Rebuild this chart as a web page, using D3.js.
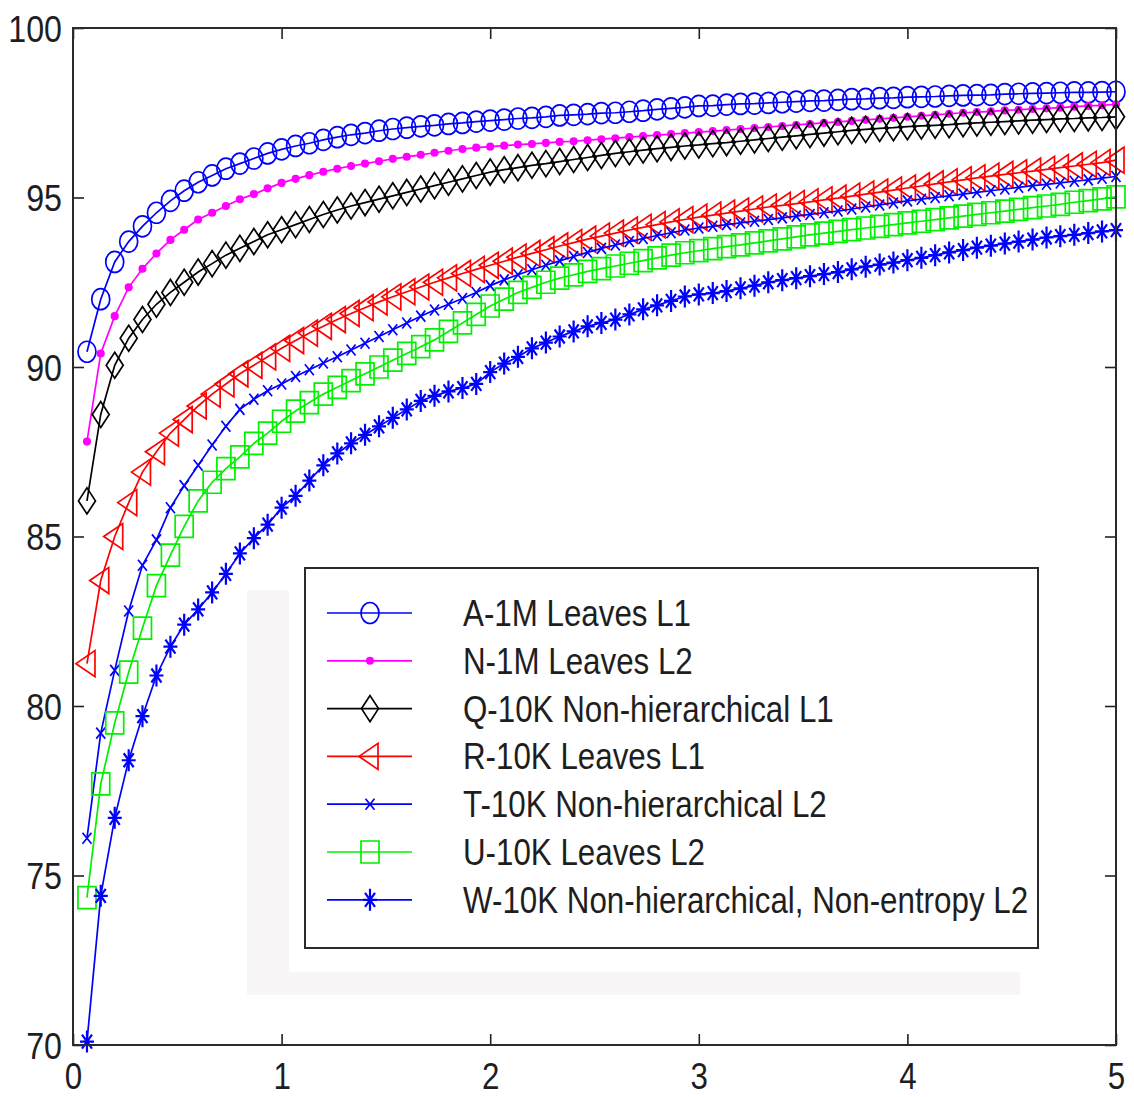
<!DOCTYPE html>
<html>
<head>
<meta charset="utf-8">
<script src="https://cdn.jsdelivr.net/npm/d3@7"></script>
<style>
  body { margin: 0; background: #fff; }
  svg { display: block; }
  text { font-family: "Liberation Sans", Arial, sans-serif; fill: #1e1e1e; }
</style>
</head>
<body>
<div id="wrapper"></div>
<script>
// x positions of the samples
const xValues = [0.067,0.133,0.2,0.267,0.333,0.4,0.467,0.533,0.6,0.667,0.733,0.8,0.867,0.933,1,
  1.067,1.133,1.2,1.267,1.333,1.4,1.467,1.533,1.6,1.667,1.733,1.8,1.867,1.933,2,
  2.067,2.133,2.2,2.267,2.333,2.4,2.467,2.533,2.6,2.667,2.733,2.8,2.867,2.933,3,
  3.067,3.133,3.2,3.267,3.333,3.4,3.467,3.533,3.6,3.667,3.733,3.8,3.867,3.933,4,
  4.067,4.133,4.2,4.267,4.333,4.4,4.467,4.533,4.6,4.667,4.733,4.8,4.867,4.933,5]

const seriesA = [90.45,92.0,93.1,93.7,94.15,94.55,94.9,95.2,95.45,95.65,95.85,96.0,96.15,96.3,96.42,
  96.52,96.6,96.7,96.78,96.85,96.9,96.97,97.02,97.06,97.1,97.13,97.17,97.2,97.24,97.27,
  97.3,97.33,97.35,97.38,97.42,97.44,97.46,97.49,97.5,97.53,97.56,97.6,97.63,97.66,97.7,
  97.71,97.74,97.76,97.77,97.79,97.81,97.83,97.85,97.86,97.88,97.9,97.91,97.93,97.94,97.96,
  97.97,97.98,98.0,98.01,98.02,98.03,98.05,98.06,98.07,98.08,98.09,98.1,98.1,98.11,98.12]

const seriesN = [87.8,90.4,91.5,92.35,92.9,93.35,93.75,94.05,94.35,94.55,94.75,94.95,95.1,95.27,95.43,
  95.55,95.66,95.76,95.85,95.93,96.0,96.07,96.14,96.2,96.26,96.32,96.38,96.43,96.47,96.5,
  96.53,96.56,96.58,96.61,96.64,96.66,96.69,96.72,96.75,96.78,96.81,96.84,96.87,96.9,96.93,
  96.96,96.99,97.02,97.05,97.08,97.11,97.14,97.17,97.2,97.23,97.26,97.29,97.32,97.35,97.38,
  97.41,97.44,97.47,97.5,97.52,97.54,97.57,97.59,97.61,97.63,97.65,97.68,97.7,97.72,97.75]

const seriesQ = [86.05,88.6,90.05,90.85,91.4,91.85,92.2,92.5,92.8,93.05,93.3,93.5,93.7,93.9,94.05,
  94.2,94.35,94.5,94.63,94.75,94.85,94.95,95.05,95.15,95.25,95.35,95.45,95.55,95.65,95.75,
  95.82,95.88,95.95,96.0,96.06,96.12,96.18,96.24,96.3,96.35,96.4,96.44,96.48,96.52,96.55,
  96.59,96.62,96.66,96.7,96.74,96.78,96.82,96.86,96.9,96.94,96.98,97.01,97.04,97.06,97.09,
  97.11,97.13,97.15,97.18,97.2,97.22,97.24,97.26,97.28,97.3,97.32,97.33,97.35,97.36,97.38]

const seriesR = [81.25,83.7,85.0,86.0,86.9,87.5,88.05,88.45,88.85,89.2,89.5,89.8,90.05,90.3,90.55,
  90.78,91.0,91.2,91.4,91.58,91.75,91.92,92.07,92.22,92.36,92.5,92.63,92.76,92.88,93.0,
  93.12,93.24,93.35,93.46,93.57,93.67,93.77,93.86,93.95,94.04,94.12,94.2,94.28,94.35,94.42,
  94.48,94.54,94.6,94.66,94.72,94.77,94.82,94.87,94.93,94.98,95.04,95.1,95.16,95.22,95.28,
  95.34,95.4,95.46,95.52,95.58,95.63,95.68,95.73,95.78,95.83,95.88,95.93,95.98,96.03,96.1]

const seriesT = [76.1,79.2,81.05,82.8,84.15,84.9,85.85,86.5,87.1,87.7,88.25,88.75,89.05,89.3,89.5,
  89.72,89.92,90.12,90.3,90.5,90.7,90.9,91.1,91.3,91.5,91.68,91.85,92.02,92.2,92.4,
  92.57,92.72,92.87,93.0,93.13,93.26,93.38,93.5,93.6,93.7,93.79,93.88,93.96,94.04,94.1,
  94.15,94.2,94.25,94.3,94.35,94.4,94.45,94.5,94.55,94.6,94.66,94.72,94.78,94.84,94.9,
  94.95,95.0,95.05,95.1,95.15,95.2,95.25,95.3,95.35,95.39,95.43,95.48,95.52,95.57,95.62]

const seriesU = [74.35,77.7,79.5,81.0,82.3,83.55,84.45,85.3,86.05,86.6,87.0,87.35,87.75,88.05,88.4,
  88.7,88.95,89.2,89.4,89.6,89.8,90.0,90.2,90.4,90.6,90.8,91.05,91.3,91.55,91.8,
  92.0,92.2,92.35,92.5,92.62,92.72,92.82,92.9,92.98,93.06,93.14,93.22,93.3,93.37,93.43,
  93.49,93.55,93.6,93.66,93.72,93.78,93.84,93.9,93.95,94.0,94.05,94.1,94.15,94.2,94.25,
  94.3,94.35,94.4,94.45,94.5,94.55,94.6,94.65,94.7,94.75,94.8,94.86,94.91,94.96,95.02]

const seriesW = [70.1,74.4,76.7,78.4,79.7,80.9,81.75,82.4,82.85,83.35,83.9,84.5,84.95,85.35,85.85,
  86.2,86.65,87.1,87.45,87.75,88.0,88.25,88.5,88.75,89.0,89.15,89.28,89.38,89.5,89.85,
  90.1,90.3,90.55,90.72,90.9,91.05,91.2,91.3,91.4,91.55,91.7,91.82,91.95,92.08,92.14,
  92.18,92.24,92.32,92.4,92.5,92.56,92.62,92.68,92.74,92.8,92.88,92.96,93.02,93.08,93.15,
  93.22,93.3,93.38,93.45,93.52,93.58,93.64,93.7,93.76,93.82,93.86,93.9,93.95,94.0,94.04]

const seriesNames = [
  "A-1M Leaves L1",
  "N-1M Leaves L2",
  "Q-10K Non-hierarchical L1",
  "R-10K Leaves L1",
  "T-10K Non-hierarchical L2",
  "U-10K Leaves L2",
  "W-10K Non-hierarchical, Non-entropy L2",
]
const seriesColors = ["#0000ff", "#ff00ff", "#000000", "#ff0000", "#0000ff", "#00f000", "#0000ff"]
const seriesMarkers = ["circle", "dot", "diamond", "triangle", "cross", "square", "star"]
const yTicks = [70, 75, 80, 85, 90, 95, 100]
const xTicks = [0, 1, 2, 3, 4, 5]

// marker outlines, centred on the data point
function markerPath(type) {
  if (type === "circle") return "M-9,0A9,10.5 0 1 0 9,0A9,10.5 0 1 0 -9,0Z"
  if (type === "dot") return "M-3.2,0A3.2,3.2 0 1 0 3.2,0A3.2,3.2 0 1 0 -3.2,0Z"
  if (type === "diamond") return "M0,-13L8.5,0L0,13L-8.5,0Z"
  if (type === "triangle") return "M-11,0L8,-13L8,13Z"
  if (type === "cross") return "M-4.5,-5.5L4.5,5.5M-4.5,5.5L4.5,-5.5"
  if (type === "square") return "M-9,-11H9V11H-9Z"
  return "M-7,0H7M0,-11V11M-5,-7L5,7M-5,7L5,-7"
}

function drawChart() {
  const allSeries = [seriesA, seriesN, seriesQ, seriesR, seriesT, seriesU, seriesW]

  let dims = {
    width: 1134,
    height: 1097,
    margin: { top: 28, right: 18, bottom: 52, left: 73 },
  }
  dims.boundedWidth = dims.width - dims.margin.left - dims.margin.right
  dims.boundedHeight = dims.height - dims.margin.top - dims.margin.bottom

  const svg = d3.select("#wrapper")
    .append("svg")
      .attr("width", dims.width)
      .attr("height", dims.height)

  // faint grey shadow shape behind the legend area
  svg.append("path")
    .attr("d", "M247,590H289V972H1020V995H247Z")
    .attr("fill", "#f8f6f6")

  const bounds = svg.append("g")
    .attr("transform", `translate(${dims.margin.left},${dims.margin.top})`)

  const xScale = d3.scaleLinear().domain([0, 5]).range([0, dims.boundedWidth])
  const yScale = d3.scaleLinear().domain([70, 100]).range([dims.boundedHeight, 0])

  // axes with inward ticks on all four sides
  const tickLen = 11
  const axisStyle = g => {
    g.select(".domain").remove()
    g.selectAll(".tick line").attr("stroke", "#222").attr("stroke-width", 1.6)
  }

  const yAxis = bounds.append("g")
    .call(d3.axisLeft(yScale).tickValues(yTicks).tickSize(-tickLen).tickSizeOuter(0).tickPadding(11))
    .call(axisStyle)
  yAxis.selectAll("text")
    .attr("x", -11 / 0.87)
    .attr("dy", null)
    .attr("y", 13)
    .attr("transform", "scale(0.87,1)")
    .style("font-size", "37px")
    .attr("fill", "#1e1e1e")

  const xAxis = bounds.append("g")
    .attr("transform", `translate(0,${dims.boundedHeight})`)
    .call(d3.axisBottom(xScale).tickValues(xTicks).tickSize(-tickLen).tickSizeOuter(0).tickFormat(d3.format("d")))
    .call(axisStyle)
  xAxis.selectAll("text")
    .attr("dy", null)
    .attr("y", 44)
    .attr("x", 0)
    .attr("transform", "scale(0.87,1)")
    .style("font-size", "36px")
    .attr("fill", "#1e1e1e")

  bounds.append("g")
    .call(d3.axisTop(xScale).tickValues(xTicks).tickSize(-tickLen).tickSizeOuter(0).tickFormat(""))
    .call(axisStyle)
  bounds.append("g")
    .attr("transform", `translate(${dims.boundedWidth},0)`)
    .call(d3.axisRight(yScale).tickValues(yTicks).tickSize(-tickLen).tickSizeOuter(0).tickFormat(""))
    .call(axisStyle)

  // the series
  const lineGenerator = d3.line()
    .x((d, i) => xScale(xValues[i]))
    .y(d => yScale(d))

  allSeries.forEach((values, s) => {
    const g = bounds.append("g")
    g.append("path")
      .attr("d", lineGenerator(values))
      .attr("fill", "none")
      .attr("stroke", seriesColors[s])
      .attr("stroke-width", 1.7)
    const isDot = seriesMarkers[s] === "dot"
    g.selectAll("path.marker")
      .data(values)
      .join("path")
        .attr("class", "marker")
        .attr("d", markerPath(seriesMarkers[s]))
        .attr("transform", (d, i) => `translate(${xScale(xValues[i])},${yScale(d)})`)
        .attr("fill", isDot ? seriesColors[s] : "none")
        .attr("stroke", seriesColors[s])
        .attr("stroke-width", seriesMarkers[s] === "star" ? 2.2 : 1.7)
  })

  // plot frame
  bounds.append("rect")
    .attr("width", dims.boundedWidth)
    .attr("height", dims.boundedHeight)
    .attr("fill", "none")
    .attr("stroke", "#2a2a2a")
    .attr("stroke-width", 2)

  // legend
  const legend = svg.append("g")
  legend.append("rect")
    .attr("x", 305)
    .attr("y", 568)
    .attr("width", 733)
    .attr("height", 380)
    .attr("fill", "#fff")
    .attr("stroke", "#2a2a2a")
    .attr("stroke-width", 2)

  seriesNames.forEach((name, s) => {
    const rowY = 613 + s * 47.8
    const row = legend.append("g").attr("transform", `translate(0,${rowY})`)
    row.append("line")
      .attr("x1", 327).attr("x2", 412)
      .attr("stroke", seriesColors[s])
      .attr("stroke-width", 1.7)
    row.append("path")
      .attr("d", markerPath(seriesMarkers[s]))
      .attr("transform", "translate(370,0)")
      .attr("fill", seriesMarkers[s] === "dot" ? seriesColors[s] : "none")
      .attr("stroke", seriesColors[s])
      .attr("stroke-width", seriesMarkers[s] === "star" ? 2.2 : 1.7)
    row.append("text")
      .attr("transform", "translate(463,13) scale(0.87,1)")
      .style("font-size", "36px")
      .text(name)
  })
}

drawChart()
</script>
</body>
</html>
